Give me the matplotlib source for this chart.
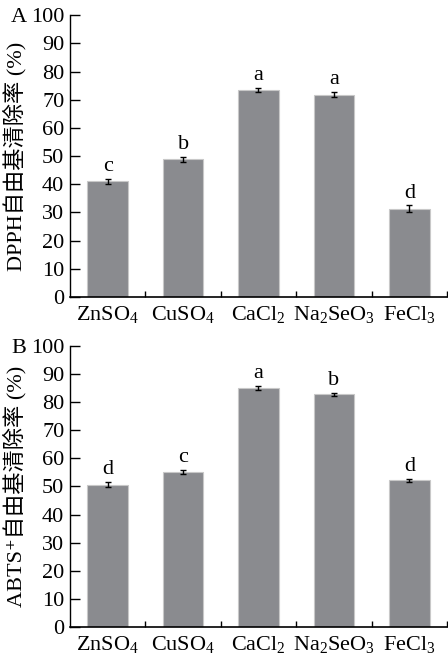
import matplotlib
matplotlib.use("Agg")
import matplotlib.pyplot as plt
import numpy as np

plt.rcParams['font.family'] = ['Liberation Serif', 'Noto Sans CJK SC', 'DejaVu Sans']
plt.rcParams['mathtext.fontset'] = 'custom'
plt.rcParams['mathtext.rm'] = 'Liberation Serif'
plt.rcParams['mathtext.it'] = 'Liberation Serif:italic'
plt.rcParams['mathtext.default'] = 'rm'

categories = [r'ZnSO$_4$', r'CuSO$_4$', r'CaCl$_2$', r'Na$_2$SeO$_3$', r'FeCl$_3$']

dpph_values = [41.0, 48.8, 73.5, 71.8, 31.3]
dpph_errors = [0.9, 0.9, 0.8, 0.9, 1.2]
dpph_letters = ['c', 'b', 'a', 'a', 'd']

abts_values = [50.6, 55.2, 85.0, 82.8, 52.2]
abts_errors = [0.9, 0.8, 0.8, 0.5, 0.6]
abts_letters = ['d', 'c', 'a', 'b', 'd']

yticks = [0, 10, 20, 30, 40, 50, 60, 70, 80, 90, 100]

fig = plt.figure(figsize=(4.48, 6.6), dpi=100)
axA = fig.add_axes([0.156, 0.55, 0.842, 0.427])
axB = fig.add_axes([0.156, 0.05, 0.842, 0.426])

bar_color = '#8a8b8f'
fs = 16

def draw(ax, vals, errs, letters, ylabel, panel):
    x = np.arange(len(categories))
    ax.bar(x, vals, width=0.54, color=bar_color, edgecolor='#c8c8c8', linewidth=0.8)
    ax.errorbar(x, vals, yerr=errs, fmt='none', ecolor='black', elinewidth=1.0,
                capsize=2.5, capthick=1.0)
    for xi, v, e, l in zip(x, vals, errs, letters):
        ax.text(xi, v + e + 1.0, l, ha='center', va='bottom', fontsize=fs,
                family='Liberation Serif')
    ax.set_xlim(-0.5, 4.5)
    ax.set_ylim(0, 100)
    ax.set_yticks(yticks)
    ax.set_yticklabels([str(t) for t in yticks], fontsize=fs)
    ax.set_xticks(x)
    ax.set_xticklabels(categories, fontsize=fs)
    ax.set_xticks(np.arange(0.5, 5.0, 1.0), minor=True)
    ax.tick_params(axis='x', which='major', length=0, pad=5)
    ax.tick_params(axis='x', which='minor', direction='in', length=4, width=1.0)
    ax.tick_params(axis='y', which='major', direction='in', length=7, width=1.0, pad=4)
    ax.spines['top'].set_visible(False)
    ax.spines['right'].set_visible(False)
    ax.spines['left'].set_linewidth(1.0)
    ax.spines['bottom'].set_linewidth(1.2)
    ax.set_ylabel(ylabel, fontsize=fs, labelpad=3)
    ax.text(-0.115, 1.0, panel, transform=ax.transAxes, fontsize=fs,
            ha='right', va='center_baseline', family='Liberation Serif')

draw(axA, dpph_values, dpph_errors, dpph_letters, 'DPPH自由基清除率 (%)', 'A')
draw(axB, abts_values, abts_errors, abts_letters, 'ABTS\u207a自由基清除率 (%)', 'B')

fig.savefig('out.png', dpi=100)
